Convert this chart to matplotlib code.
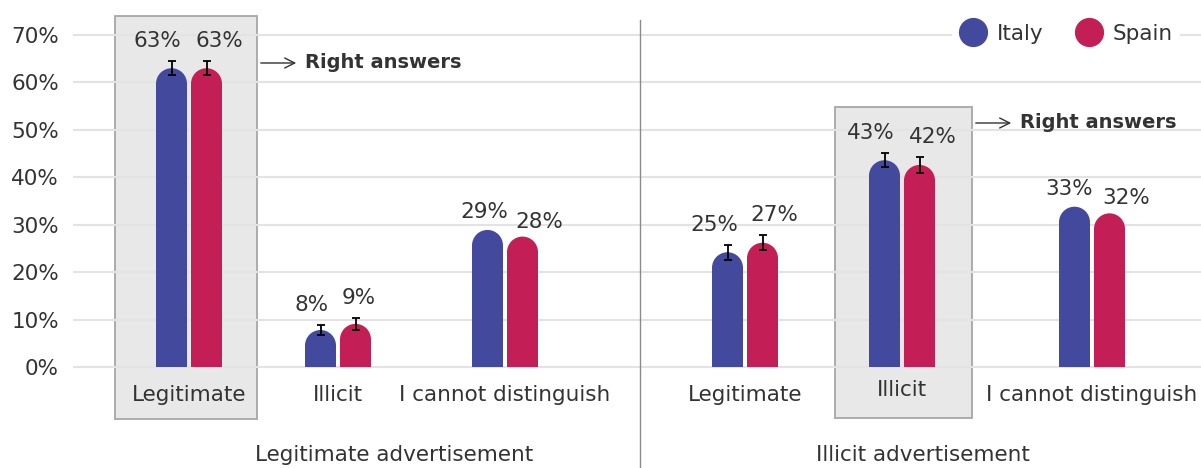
import numpy as np
import matplotlib.pyplot as plt
from matplotlib.patches import Ellipse, Rectangle
from matplotlib.lines import Line2D

# categories / panels
categories = ["Legitimate", "Illicit", "I cannot distinguish"]
panels = ["Legitimate advertisement", "Illicit advertisement"]
countries = ["Italy", "Spain"]

# bar heights (%)
italy_legit_ad = [63.0, 7.8, 28.9]
spain_legit_ad = [63.0, 9.1, 27.5]
italy_illicit_ad = [24.2, 43.6, 33.8]
spain_illicit_ad = [26.2, 42.6, 32.4]

# printed value labels (%)
italy_legit_lbl = [63, 8, 29]
spain_legit_lbl = [63, 9, 28]
italy_illicit_lbl = [25, 43, 33]
spain_illicit_lbl = [27, 42, 32]

# error bar half widths (%), None = no error bar
italy_legit_err = [1.5, 1.1, None]
spain_legit_err = [1.5, 1.2, None]
italy_illicit_err = [1.6, 1.5, None]
spain_illicit_err = [1.6, 1.6, None]

# index of the "right answer" per panel
right_answer = [0, 1]

# ---- layout (pixel based) ----
W, H = 1201, 468
X0 = 73
Y_ZERO, Y_70 = 367, 35
PX = (Y_ZERO - Y_70) / 70.0

col_italy = "#434a9e"
col_spain = "#c41e56"
txt = "#333333"
fs = 15.5

group_x = [[189, 338, 505], [745, 902, 1092]]
lbl_dx = [[(-14, 13), (-9, 3), (-3, 17)], [(-13, 12), (-14, 13), (-5, 17)]]
box_px = [(115, 257, 16, 419), (835, 972, 107, 418)]
arrow_y = [63, 123]
panel_label_x = [394, 923]
sep_x = 640
bar_w = 31
half = bar_w / 2 + 2


def yd(py):
    return (Y_ZERO - py) / PX


fig = plt.figure(figsize=(W / 100, H / 100), dpi=100)
ax = fig.add_axes([X0 / W, 0, 1 - X0 / W, 1])
ax.set_xlim(X0, W)
ax.set_ylim(yd(H), yd(0))
for s in ax.spines.values():
    s.set_visible(False)
ax.set_xticks([])
ax.set_yticks(range(0, 80, 10))
ax.set_yticklabels([f"{t}%" for t in range(0, 80, 10)])
ax.tick_params(axis="y", length=0, pad=10, labelsize=fs, labelcolor=txt)
ax.yaxis.grid(True, color="#e3e3e3", lw=1.5)
ax.set_axisbelow(True)

data = [
    (italy_legit_ad, spain_legit_ad, italy_legit_lbl, spain_legit_lbl, italy_legit_err, spain_legit_err),
    (italy_illicit_ad, spain_illicit_ad, italy_illicit_lbl, spain_illicit_lbl, italy_illicit_err, spain_illicit_err),
]

r_y = (bar_w / 2) / PX
for p, (it, sp, itl, spl, ite, spe) in enumerate(data):
    # highlight box for the right answer
    bx0, bx1, by0, by1 = box_px[p]
    ax.add_patch(Rectangle((bx0, yd(by1)), bx1 - bx0, yd(by0) - yd(by1),
                           fc="#e8e8e8", ec="#a6a6a6", lw=1.3, zorder=0.1))
    ax.annotate("", xy=(bx1 + 42, yd(arrow_y[p])), xytext=(bx1 + 1, yd(arrow_y[p])),
                arrowprops=dict(arrowstyle="->", lw=1.0, color=txt, mutation_scale=18))
    ax.text(bx1 + 48, yd(arrow_y[p] - 1), "Right answers", fontsize=14, fontweight="bold",
            color=txt, ha="left", va="center")

    for i, gc in enumerate(group_x[p]):
        for k, (vals, lbls, errs, col) in enumerate([(it, itl, ite, col_italy), (sp, spl, spe, col_spain)]):
            x = gc - half if k == 0 else gc + half
            h = vals[i]
            ax.bar(x, h - r_y, width=bar_w, color=col, zorder=2, lw=0)
            ax.add_patch(Ellipse((x, h - r_y), bar_w, 2 * r_y, color=col, lw=0, zorder=2))
            top = h
            if errs[i] is not None:
                ax.errorbar(x, h, yerr=errs[i], color="black", lw=1.3, capsize=3,
                            capthick=1.3, zorder=3)
                top = h + errs[i]
                dy = 20
            else:
                dy = 18 if k == 0 else 15
            ax.annotate(f"{lbls[i]}%", xy=(x, top), xytext=(lbl_dx[p][i][k], dy),
                        textcoords="offset pixels", ha="center", va="center",
                        fontsize=fs, color=txt)
        cy = 390 if i == right_answer[p] and p == 1 else 395
        ax.text(gc, yd(cy), categories[i], fontsize=fs, color=txt, ha="center", va="center")
    ax.text(panel_label_x[p], yd(455), panels[p], fontsize=fs, color=txt, ha="center", va="center")

ax.plot([sep_x, sep_x], [yd(20), yd(H)], color="#8a8a8a", lw=1.0, clip_on=False, zorder=1)

handles = [Line2D([], [], marker="o", ls="", ms=20, color=c, mec=c)
           for c in (col_italy, col_spain)]
leg = ax.legend(handles, countries, loc="center", bbox_to_anchor=(1066 / W, 1 - 34 / H),
                bbox_transform=fig.transFigure, ncol=2, frameon=True, facecolor="white",
                edgecolor="none", framealpha=1, fontsize=fs, handlelength=1.3,
                handletextpad=0.45, columnspacing=1.5, borderpad=0.3)
for t in leg.get_texts():
    t.set_color(txt)

fig.savefig("out.png", dpi=100)
